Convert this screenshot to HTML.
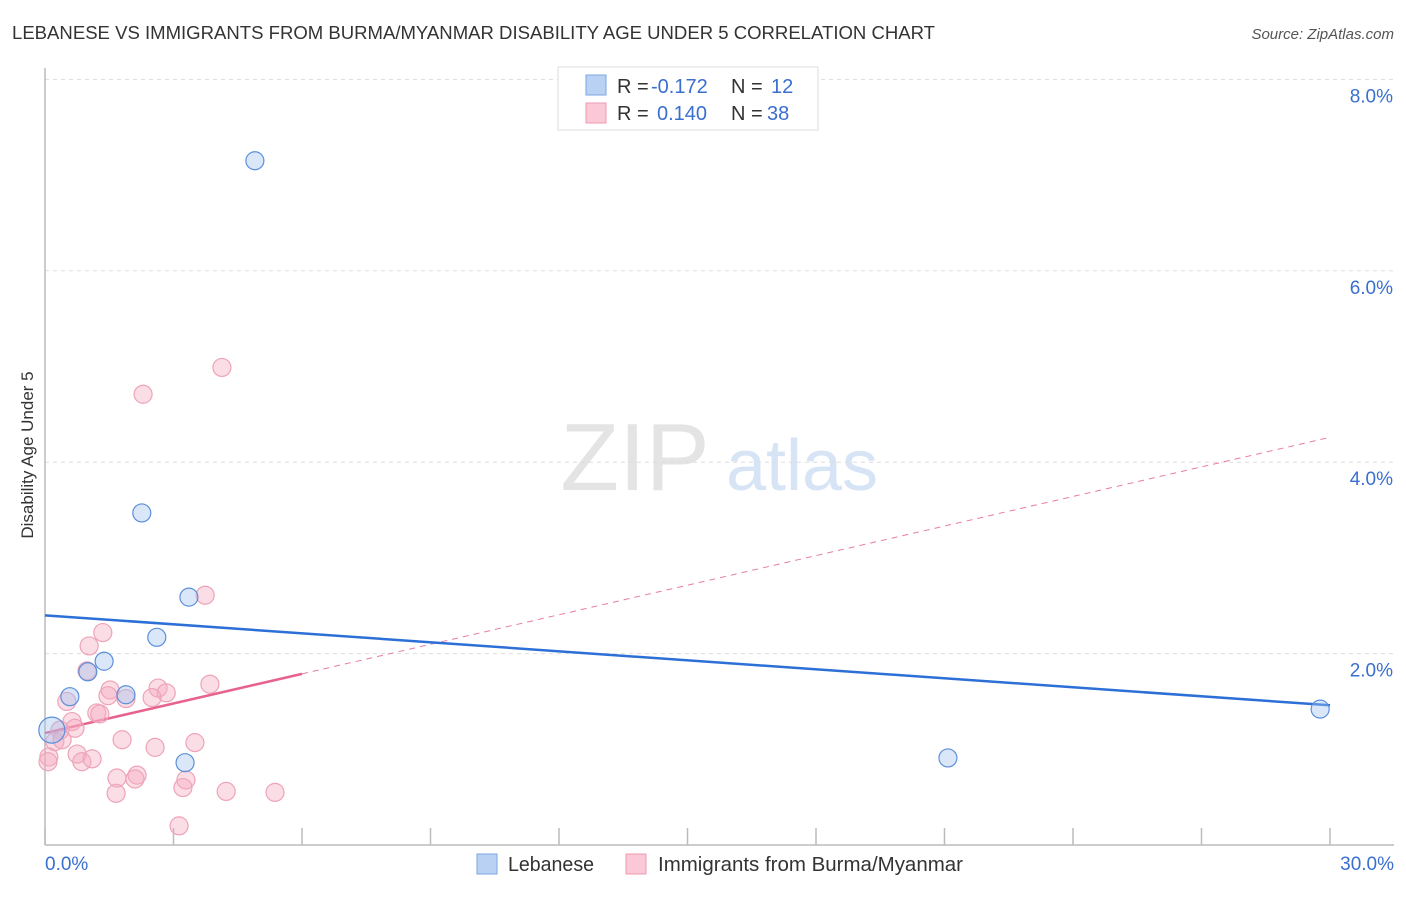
<!DOCTYPE html>
<html><head><meta charset="utf-8"><style>
body{margin:0;background:#fff;font-family:"Liberation Sans",sans-serif;}
svg text{font-family:"Liberation Sans",sans-serif;}
</style></head><body>
<svg id="chart" width="1406" height="892" viewBox="0 0 1406 892">
<text x="12" y="39" font-size="18" fill="#333" textLength="923" lengthAdjust="spacingAndGlyphs">LEBANESE VS IMMIGRANTS FROM BURMA/MYANMAR DISABILITY AGE UNDER 5 CORRELATION CHART</text>
<text x="1394" y="39" font-size="15" fill="#555" text-anchor="end" font-style="italic">Source: ZipAtlas.com</text>
<text transform="translate(33,455) rotate(-90)" font-size="17" fill="#333" text-anchor="middle">Disability Age Under 5</text>
<g>
<text x="635" y="490" font-size="96" fill="#e4e4e4" font-family="Liberation Serif" text-anchor="middle">ZIP</text>
<text x="802" y="490" font-size="72" fill="#d6e4f5" text-anchor="middle">atlas</text>
</g>
<g id="grid"></g><g id="axes"></g><g id="trends"></g><g id="points"></g>
<g>
<rect x="558" y="67" width="260" height="63" fill="#fff" stroke="#ddd"/>
<rect x="586" y="75" width="20" height="20" fill="#b9d1f3" stroke="#7aa6e0"/>
<rect x="586" y="103" width="20" height="20" fill="#fac8d6" stroke="#ec9ab1"/>
<text x="617" y="93" font-size="20" fill="#333">R = </text><text x="651" y="93" font-size="20" fill="#3a6fd0">-0.172</text>
<text x="731" y="93" font-size="20" fill="#333">N = </text><text x="771" y="93" font-size="20" fill="#3a6fd0">12</text>
<text x="617" y="120" font-size="20" fill="#333">R = </text><text x="657" y="120" font-size="20" fill="#3a6fd0">0.140</text>
<text x="731" y="120" font-size="20" fill="#333">N = </text><text x="767" y="120" font-size="20" fill="#3a6fd0">38</text>
</g>
<g>
<rect x="477" y="854" width="20" height="20" fill="#b9d1f3" stroke="#7aa6e0"/>
<text x="508" y="871" font-size="20" fill="#333" textLength="86" lengthAdjust="spacingAndGlyphs">Lebanese</text>
<rect x="626" y="854" width="20" height="20" fill="#fac8d6" stroke="#ec9ab1"/>
<text x="658" y="871" font-size="20" fill="#333" textLength="305" lengthAdjust="spacingAndGlyphs">Immigrants from Burma/Myanmar</text>
</g>
</svg>
<script>
const xTicks=[0,3,6,9,12,15,18,21,24,27,30];
const yTicks=[2,4,6,8];
const yTickLabels=["2.0%","4.0%","6.0%","8.0%"];
const xEndLabels=["0.0%","30.0%"];
const lebX=[4.90,2.26,3.36,2.61,1.38,1.00,0.58,1.89,3.27,21.08,29.77,0.16];
const lebY=[7.15,3.47,2.59,2.17,1.92,1.81,1.55,1.57,0.86,0.91,1.42,1.20];
const burX=[4.13,2.29,3.74,1.35,1.03,0.98,0.51,1.52,1.47,1.89,2.64,2.83,2.50,3.85,1.21,1.28,0.63,0.35,0.23,0.40,0.09,0.07,1.80,2.57,3.50,0.75,0.86,1.10,2.15,2.10,1.68,1.66,3.29,3.22,4.23,5.37,3.13,0.70];
const burY=[4.99,4.71,2.61,2.22,2.08,1.82,1.50,1.62,1.56,1.53,1.64,1.59,1.54,1.68,1.38,1.37,1.29,1.20,1.08,1.10,0.92,0.87,1.10,1.02,1.07,0.95,0.87,0.90,0.73,0.69,0.70,0.54,0.68,0.60,0.56,0.55,0.20,1.22];
const lebTrend=[2.40,1.46];
const burTrend=[1.17,4.26];
const burSolidEnd=6;
const X=v=>45+v*(1285/30), Y=v=>845-v*95.7;
const NS="http://www.w3.org/2000/svg";
function mk(tag,attrs,parent){const e=document.createElementNS(NS,tag);for(const k in attrs)e.setAttribute(k,attrs[k]);document.getElementById(parent).appendChild(e);return e;}
yTicks.forEach((t,i)=>{
 const l=mk('line',{x1:45,x2:1394,y1:Y(t),y2:Y(t),stroke:'#ddd','stroke-dasharray':'4,4'},'grid');
 
 
 const tx=mk('text',{x:1393,y:Y(t)+23,'font-size':19,fill:'#3a6fd0','text-anchor':'end'},'grid');tx.textContent=yTickLabels[i];
 
 
});
const ax=mk('line',{x1:45,x2:45,y1:68,y2:845,stroke:'#bbb','stroke-width':1.5},'axes');


const bx=mk('line',{x1:45,x2:1394,y1:845,y2:845,stroke:'#bbb','stroke-width':1.5},'axes');


xTicks.forEach(t=>{const l=mk('line',{x1:X(t),x2:X(t),y1:828,y2:845,stroke:'#bbb','stroke-width':1.5},'axes');
 
 });
[[0,'start',45],[30,'end',1394]].forEach((d,i)=>{const t=mk('text',{x:d[2],y:870,'font-size':19,fill:'#3a6fd0','text-anchor':d[1]},'axes');t.textContent=xEndLabels[i];
 
 });
const bm=v=>burTrend[0]+(burTrend[1]-burTrend[0])*v/30;
let tl=mk('line',{x1:X(burSolidEnd),y1:Y(bm(burSolidEnd)),x2:X(30),y2:Y(burTrend[1]),stroke:'#e87da0','stroke-width':1,'stroke-dasharray':'6,5'},'trends');


tl=mk('line',{x1:X(0),y1:Y(burTrend[0]),x2:X(burSolidEnd),y2:Y(bm(burSolidEnd)),stroke:'#e8628e','stroke-width':2.5},'trends');


tl=mk('line',{x1:X(0),y1:Y(lebTrend[0]),x2:X(30),y2:Y(lebTrend[1]),stroke:'#2c6fd6','stroke-width':2.5},'trends');


burX.forEach((x,i)=>{const c=mk('circle',{cx:X(x),cy:Y(burY[i]),r:9,fill:'rgba(246,170,192,0.4)',stroke:'#eea3b8','stroke-width':1.2},'points');
 
 });
lebX.forEach((x,i)=>{const c=mk('circle',{cx:X(x),cy:Y(lebY[i]),r:i==11?13:9,fill:'rgba(160,195,240,0.4)',stroke:'#5b8fdb','stroke-width':1.2},'points');
 
 });
</script>
</body></html>
